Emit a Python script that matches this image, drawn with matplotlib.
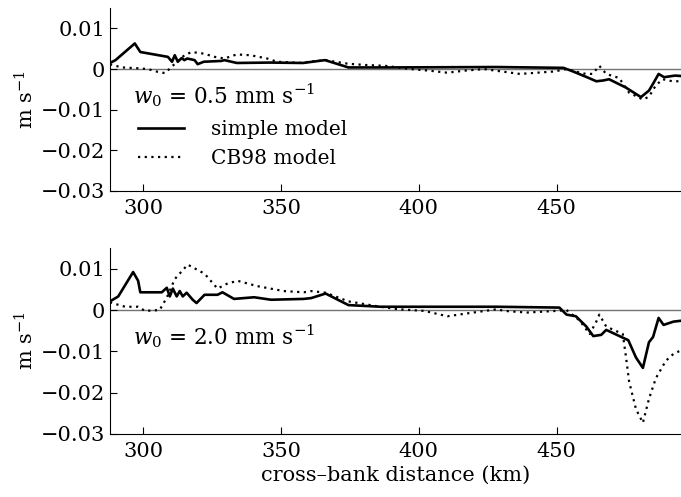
import matplotlib
matplotlib.use('Agg')
import matplotlib.pyplot as plt
import numpy as np

plt.rcParams['font.family'] = 'DejaVu Serif'
plt.rcParams['mathtext.fontset'] = 'dejavuserif'

# panel 1: w0 = 0.5 mm/s
x1_simple = [288, 290, 297, 299, 309, 310.5, 311.5, 312.6, 314, 315, 316, 318.7, 319.8, 322,
             328.4, 329.5, 334, 346, 358, 366, 374.5, 390, 428, 452.5, 456, 461, 464.4, 467,
             469, 475, 480.6, 483.5, 485, 487, 489, 493, 495]
y1_simple = [0.0015, 0.0022, 0.0063, 0.0042, 0.003, 0.0018, 0.0034, 0.0018, 0.0027, 0.0022,
             0.0026, 0.0022, 0.0012, 0.0018, 0.002, 0.0022, 0.0015, 0.0016, 0.0015, 0.0022,
             0.0004, 0.0004, 0.0005, 0.0003, -0.0006, -0.002, -0.003, -0.0028, -0.0025,
             -0.0045, -0.0069, -0.0053, -0.0036, -0.0012, -0.002, -0.0016, -0.0017]
x1_cb98 = [288, 288.8, 292.4, 298, 301.8, 305.4, 308, 310.4, 315, 317.6, 322, 326, 329.5, 334,
           339, 345, 348.6, 358, 360, 366, 374.5, 380.6, 387.8, 397, 404, 410.4, 416.5, 423.7,
           436.7, 449, 453.6, 459.7, 463, 465.5, 468, 472.7, 476.3, 481.3, 483.5, 486, 488.5,
           492, 495]
y1_cb98 = [0.0012, 0.001, 0.0004, 0.0002, 0.0, -0.0007, -0.001, 0.0006, 0.0034, 0.0042, 0.0038,
           0.003, 0.0026, 0.0036, 0.0034, 0.0026, 0.0018, 0.0015, 0.0018, 0.0022, 0.0013, 0.001,
           0.0008, 0.0, -0.0004, -0.0009, -0.0004, 0.0, -0.0012, -0.0006, 0.0, -0.0011, -0.0012,
           0.0008, -0.0012, -0.0022, -0.0058, -0.0075, -0.0068, -0.004, -0.0025, -0.003, -0.003]

# panel 2: w0 = 2.0 mm/s
x2_simple = [288, 291, 296.4, 298.2, 299, 306.8, 308.6, 309.7, 310.8, 312.2, 313.3, 314.4,
             315.8, 318, 319.4, 322.3, 327, 328.8, 333, 340.3, 346.4, 358.3, 361, 366.2, 374.5,
             386.3, 428.4, 451, 453.6, 457, 460.8, 463.3, 466.2, 468, 476, 478.8, 481.3, 483.5,
             485, 487, 488.8, 492.4, 495]
y2_simple = [0.0021, 0.0033, 0.0092, 0.0071, 0.0043, 0.0043, 0.0054, 0.0033, 0.0052, 0.0033,
             0.0046, 0.0033, 0.0042, 0.0025, 0.0017, 0.0037, 0.0037, 0.0043, 0.0027, 0.0031,
             0.0025, 0.0027, 0.0029, 0.004, 0.0012, 0.0008, 0.0008, 0.0006, -0.0011, -0.0015,
             -0.004, -0.0063, -0.006, -0.0048, -0.0073, -0.0115, -0.014, -0.0078, -0.0065,
             -0.0019, -0.0036, -0.0028, -0.0026]
x2_cb98 = [288, 288.8, 293.5, 298.2, 300.7, 306, 308.6, 311.5, 316.2, 322.3, 327, 330.2, 334.2,
           341.4, 351, 358.3, 361, 366.2, 374.5, 384.2, 392.4, 402, 410.4, 418.7, 428.4, 431,
           439.2, 450, 453.6, 458.3, 462, 464.4, 465.5, 468, 474, 475.2, 476.3, 478.8, 481.3,
           483.5, 486, 489.6, 492.4, 495]
y2_cb98 = [0.0019, 0.0017, 0.0008, 0.0008, -0.0002, 0.0, 0.003, 0.0075, 0.011, 0.0088, 0.0052,
           0.0063, 0.0071, 0.0058, 0.0046, 0.0043, 0.0046, 0.0042, 0.0021, 0.001, 0.0002,
           -0.0002, -0.0015, -0.0007, 0.0002, -0.0002, -0.0006, -0.0002, 0.0, -0.0025, -0.0058,
           -0.0028, -0.0011, -0.004, -0.0058, -0.0115, -0.0173, -0.024, -0.0273, -0.0215,
           -0.0165, -0.0123, -0.0106, -0.0098]

labels = ['$w_{\\mathit{0}}$ = 0.5 mm s$^{-1}$', '$w_{\\mathit{0}}$ = 2.0 mm s$^{-1}$']
yticks = [0.01, 0, -0.01, -0.02, -0.03]
yticklabels = ['0.01', '0', '\u22120.01', '\u22120.02', '\u22120.03']

fig = plt.figure(figsize=(6.81, 4.97), dpi=100)
ax1 = fig.add_axes([0.1615, 0.6157, 0.838, 0.368])
ax2 = fig.add_axes([0.1615, 0.1268, 0.838, 0.374])

panels = [(ax1, x1_simple, y1_simple, x1_cb98, y1_cb98),
          (ax2, x2_simple, y2_simple, x2_cb98, y2_cb98)]

for i, (ax, xs, ys, xc, yc) in enumerate(panels):
    ax.axhline(0, color='0.45', lw=1.0, zorder=1)
    ax.plot(xs, ys, color='black', lw=1.9, label='simple model', zorder=3)
    ax.plot(xc, yc, color='black', lw=1.6, ls=(0, (1, 2)), label='CB98 model', zorder=2)
    ax.set_xlim(288, 495)
    ax.set_ylim(-0.03, 0.015)
    ax.set_xticks([300, 350, 400, 450])
    ax.set_yticks(yticks)
    ax.set_yticklabels(yticklabels)
    ax.spines['top'].set_visible(False)
    ax.spines['right'].set_visible(False)
    ax.tick_params(direction='in', labelsize=15, length=5, width=0.8)
    ax.tick_params(axis='x', pad=6)
    ax.set_ylabel('m s$^{-1}$', fontsize=15, labelpad=2)
    ax.text(0.04, 0.525, labels[i], transform=ax.transAxes, fontsize=15.5, va='center')

leg = ax1.legend(loc='upper left', bbox_to_anchor=(0.035, 0.43), frameon=False, fontsize=14.5,
                 handlelength=2.3, handletextpad=1.3, labelspacing=0.5, borderaxespad=0)

ax2.set_xlabel('cross\u2013bank distance (km)', fontsize=15, labelpad=3)

fig.savefig('out.png', dpi=100)
